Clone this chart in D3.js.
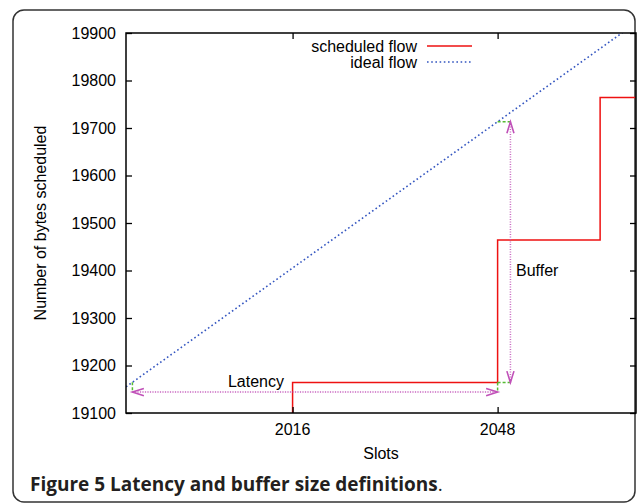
<!DOCTYPE html>
<html>
<head>
<meta charset="utf-8">
<script src="https://cdn.jsdelivr.net/npm/d3@7"></script>
<style>
  html, body { margin: 0; padding: 0; background: #fff; }
  svg { display: block; }
</style>
</head>
<body>
<svg id="chart" width="637" height="504"></svg>
<script>
// ---- data ----
const xDomain = [1990, 2069.6];
const yDomain = [19100, 19900];
const xTicks = [2016, 2048];
const yTicks = [19100, 19200, 19300, 19400, 19500, 19600, 19700, 19800, 19900];

// scheduled flow (step function, value changes at these slots)
const schedSlots = [1990, 2016, 2048, 2064, 2070];
const schedBytes = [18864, 19164, 19464, 19764, 19764];

// ideal flow (straight line)
const idealSlots = [1990, 2070];
const idealBytes = [19155, 19925];

// annotation values
const latencyStart = 1991, latencyEnd = 2048, latencyLevel = 19144;
const bufferSlot = 2050, bufferLow = 19164, bufferHigh = 19713;

const seriesNames = ["scheduled flow", "ideal flow"];
const xLabel = "Slots";
const yLabel = "Number of bytes scheduled";

// ---- layout ----
const svg = d3.select("#chart");
const L = 126, R = 636, T = 33, B = 413;
const x = d3.scaleLinear().domain(xDomain).range([L, R]);
const y = d3.scaleLinear().domain(yDomain).range([B, T]);

const font = "'Liberation Sans', Arial, sans-serif";

// outer rounded box
svg.append("rect")
  .attr("x", 13).attr("y", 10).attr("width", 622).attr("height", 492)
  .attr("rx", 11).attr("ry", 11)
  .attr("fill", "#fff").attr("stroke", "#333").attr("stroke-width", 1.5);

// clip
svg.append("defs").append("clipPath").attr("id", "plotclip")
  .append("rect").attr("x", L).attr("y", T).attr("width", R - L).attr("height", B - T);

const plot = svg.append("g").attr("clip-path", "url(#plotclip)");

// ideal flow
const idealData = idealSlots.map((s, i) => [s, idealBytes[i]]);
plot.append("path")
  .datum(idealData)
  .attr("d", d3.line().x(d => x(d[0])).y(d => y(d[1])))
  .attr("fill", "none").attr("stroke", "#3355c0").attr("stroke-width", 1.6)
  .attr("stroke-dasharray", "1.6,2.6");

// scheduled flow
const schedData = schedSlots.map((s, i) => [s, schedBytes[i]]);
plot.append("path")
  .datum(schedData)
  .attr("d", d3.line().x(d => x(d[0])).y(d => y(d[1])).curve(d3.curveStepAfter))
  .attr("fill", "none").attr("stroke", "#ee1111").attr("stroke-width", 1.5);

// green dashed helper lines
const ideal = s => idealBytes[0] + (s - idealSlots[0]) * (idealBytes[1] - idealBytes[0]) / (idealSlots[1] - idealSlots[0]);
const greenSegs = [
  [[latencyStart, ideal(latencyStart)], [latencyStart, latencyLevel]],
  [[latencyEnd, bufferLow], [latencyEnd, latencyLevel]],
  [[latencyEnd, bufferLow], [bufferSlot, bufferLow]],
  [[latencyEnd, bufferHigh], [bufferSlot, bufferHigh]]
];
plot.selectAll("line.green").data(greenSegs).enter().append("line")
  .attr("x1", d => x(d[0][0])).attr("y1", d => y(d[0][1]))
  .attr("x2", d => x(d[1][0])).attr("y2", d => y(d[1][1]))
  .attr("stroke", "#55bb33").attr("stroke-width", 1.5).attr("stroke-dasharray", "3,2");

// magenta arrows
const mag = "#c050b8";
function arrow(x1, y1, x2, y2) {
  plot.append("line").attr("x1", x1).attr("y1", y1).attr("x2", x2).attr("y2", y2)
    .attr("stroke", mag).attr("stroke-width", 1.5).attr("stroke-dasharray", "1.2,1.3").attr("opacity", 0.85);
  const head = (tx, ty, fx, fy) => {
    const a = Math.atan2(fy - ty, fx - tx), len = 12, w = 0.3;
    const p1 = [tx + len * Math.cos(a + w), ty + len * Math.sin(a + w)];
    const p2 = [tx + len * Math.cos(a - w), ty + len * Math.sin(a - w)];
    plot.append("path").attr("d", `M${p1}L${tx},${ty}L${p2}`)
      .attr("fill", "none").attr("stroke", mag).attr("stroke-width", 1.6);
  };
  head(x1, y1, x2, y2);
  head(x2, y2, x1, y1);
}
arrow(x(latencyStart), y(latencyLevel), x(latencyEnd), y(latencyLevel));
arrow(x(bufferSlot), y(bufferLow), x(bufferSlot), y(bufferHigh));

// annotation texts
svg.append("text").attr("x", 256).attr("y", 387).attr("text-anchor", "middle")
  .attr("font-family", font).attr("font-size", 16).attr("fill", "#000").text("Latency");
svg.append("text").attr("x", 516).attr("y", 276)
  .attr("font-family", font).attr("font-size", 16).attr("fill", "#000").text("Buffer");

// frame
svg.append("rect").attr("x", L).attr("y", T).attr("width", R - L).attr("height", B - T)
  .attr("fill", "none").attr("stroke", "#000").attr("stroke-width", 1.5);

// axes
const tickLen = 6;
const yAxisL = svg.append("g").attr("transform", `translate(${L},0)`)
  .call(d3.axisRight(y).tickValues(yTicks).tickSize(tickLen).tickFormat(""));
const yAxisR = svg.append("g").attr("transform", `translate(${R},0)`)
  .call(d3.axisLeft(y).tickValues(yTicks).tickSize(tickLen).tickFormat(""));
const xAxisB = svg.append("g").attr("transform", `translate(0,${B})`)
  .call(d3.axisTop(x).tickValues(xTicks).tickSize(tickLen).tickFormat(""));
const xAxisT = svg.append("g").attr("transform", `translate(0,${T})`)
  .call(d3.axisBottom(x).tickValues(xTicks).tickSize(tickLen).tickFormat(""));
[yAxisL, yAxisR, xAxisB, xAxisT].forEach(g => {
  g.select(".domain").remove();
  g.selectAll(".tick line").attr("stroke", "#000").attr("stroke-width", 1.3);
});

// tick labels
svg.append("g").selectAll("text").data(yTicks).enter().append("text")
  .attr("x", 116).attr("y", d => y(d)).attr("dy", "0.35em").attr("text-anchor", "end")
  .attr("font-family", font).attr("font-size", 16).attr("fill", "#000").text(d => d);
svg.append("g").selectAll("text").data(xTicks).enter().append("text")
  .attr("x", d => x(d)).attr("y", 435).attr("text-anchor", "middle")
  .attr("font-family", font).attr("font-size", 16).attr("fill", "#000").text(d => d);

// axis labels
svg.append("text").attr("x", (L + R) / 2).attr("y", 459).attr("text-anchor", "middle")
  .attr("font-family", font).attr("font-size", 16).attr("fill", "#000").text(xLabel);
svg.append("text").attr("transform", `translate(46,${(T + B) / 2}) rotate(-90)`)
  .attr("text-anchor", "middle")
  .attr("font-family", font).attr("font-size", 16).attr("fill", "#000").text(yLabel);

// legend
const legY = [46, 62];
const leg = svg.append("g");
seriesNames.forEach((n, i) => {
  leg.append("text").attr("x", 417).attr("y", legY[i]).attr("dy", "0.35em").attr("text-anchor", "end")
    .attr("font-family", font).attr("font-size", 16).attr("fill", "#000").text(n);
  const ln = leg.append("line").attr("x1", 427).attr("x2", 472).attr("y1", legY[i]).attr("y2", legY[i]);
  if (i === 0) ln.attr("stroke", "#ee1111").attr("stroke-width", 1.5);
  else ln.attr("stroke", "#3355c0").attr("stroke-width", 1.6).attr("stroke-dasharray", "1.6,2.6");
});

// caption
const cap = svg.append("text").attr("x", 30).attr("y", 491)
  .attr("font-family", "'Open Sans', sans-serif").attr("font-size", 19).attr("fill", "#231f20");
cap.append("tspan").attr("font-weight", "bold").text("Figure 5 Latency and buffer size definitions");
cap.append("tspan").attr("font-weight", "normal").text(".");
</script>
</body>
</html>
